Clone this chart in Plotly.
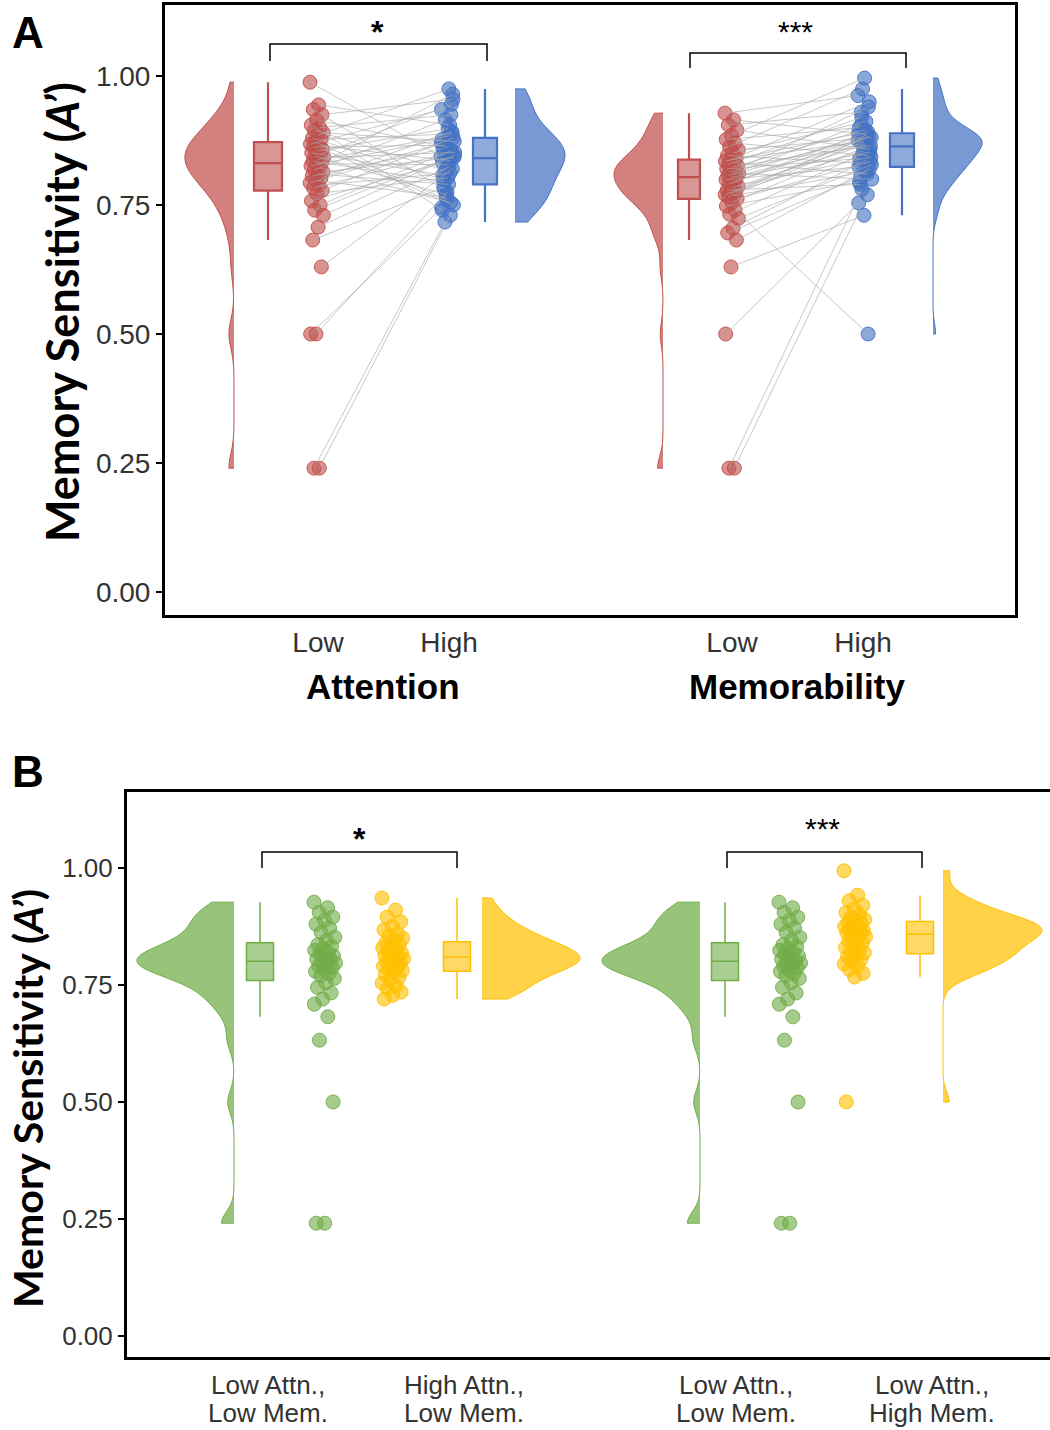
import numpy as np
import plotly.graph_objects as go

# ---------------- DATA ----------------
# Panel A: per-subject memory sensitivity (A'), paired low/high
att_low = [0.988, 0.944, 0.935, 0.925, 0.915, 0.905, 0.900, 0.895, 0.890, 0.885,
           0.880, 0.877, 0.872, 0.868, 0.865, 0.862, 0.858, 0.855, 0.851, 0.848,
           0.845, 0.842, 0.838, 0.835, 0.832, 0.830, 0.826, 0.822, 0.818, 0.814,
           0.810, 0.806, 0.802, 0.798, 0.793, 0.788, 0.783, 0.778, 0.772, 0.758,
           0.750, 0.740, 0.730, 0.707, 0.682, 0.630, 0.500, 0.500, 0.240, 0.240]
att_high = [0.844, 0.905, 0.780, 0.955, 0.862, 0.740, 0.925, 0.816, 0.873, 0.975,
            0.799, 0.888, 0.760, 0.935, 0.836, 0.866, 0.750, 0.898, 0.808, 0.945,
            0.770, 0.852, 0.884, 0.795, 0.965, 0.828, 0.877, 0.755, 0.915, 0.842,
            0.790, 0.859, 0.892, 0.765, 0.870, 0.812, 0.849, 0.880, 0.803, 0.832,
            0.855, 0.840, 0.846, 0.824, 0.785, 0.820, 0.775, 0.745, 0.730, 0.717]
mem_low = [0.928, 0.915, 0.905, 0.895, 0.885, 0.877, 0.870, 0.863, 0.857, 0.851,
           0.846, 0.842, 0.838, 0.835, 0.832, 0.829, 0.826, 0.823, 0.820, 0.817,
           0.814, 0.811, 0.809, 0.807, 0.805, 0.803, 0.799, 0.795, 0.791, 0.787,
           0.783, 0.779, 0.776, 0.773, 0.770, 0.768, 0.766, 0.762, 0.755, 0.748,
           0.740, 0.732, 0.724, 0.705, 0.696, 0.682, 0.630, 0.500, 0.240, 0.240]
mem_high = [0.962, 0.887, 0.930, 0.858, 0.996, 0.900, 0.846, 0.975, 0.881, 0.912,
            0.831, 0.950, 0.873, 0.889, 0.810, 0.920, 0.865, 0.896, 0.840, 0.940,
            0.877, 0.800, 0.885, 0.905, 0.852, 0.869, 0.824, 0.892, 0.879, 0.843,
            0.867, 0.790, 0.883, 0.855, 0.875, 0.815, 0.871, 0.834, 0.862, 0.795,
            0.500, 0.849, 0.828, 0.837, 0.805, 0.820, 0.730, 0.754, 0.770, 0.780]

# Panel B
low_attn_low_mem = [0.927, 0.915, 0.905, 0.895, 0.888, 0.880, 0.872, 0.862, 0.852, 0.845,
                    0.836, 0.832, 0.828, 0.824, 0.820, 0.816, 0.812, 0.808, 0.805, 0.802,
                    0.800, 0.797, 0.793, 0.790, 0.787, 0.783, 0.779, 0.775, 0.770, 0.764,
                    0.755, 0.745, 0.733, 0.720, 0.709, 0.682, 0.632, 0.500, 0.241, 0.241]
high_attn_low_mem = [0.936, 0.910, 0.895, 0.885, 0.875, 0.868, 0.860, 0.855, 0.850, 0.845,
                     0.840, 0.837, 0.834, 0.830, 0.826, 0.822, 0.818, 0.815, 0.813, 0.811,
                     0.809, 0.806, 0.803, 0.800, 0.797, 0.794, 0.790, 0.787, 0.784, 0.781,
                     0.778, 0.772, 0.766, 0.760, 0.754, 0.748, 0.742, 0.735, 0.728, 0.720]
low_attn_high_mem = [0.994, 0.942, 0.930, 0.920, 0.912, 0.905, 0.900, 0.895, 0.890, 0.887,
                     0.884, 0.881, 0.878, 0.875, 0.872, 0.869, 0.866, 0.864, 0.862, 0.860,
                     0.857, 0.853, 0.849, 0.845, 0.840, 0.835, 0.830, 0.826, 0.822, 0.819,
                     0.815, 0.810, 0.805, 0.800, 0.795, 0.790, 0.783, 0.775, 0.767, 0.500]

a_ticklabels = ["Low", "High", "Low", "High"]
a_group_titles = ["Attention", "Memorability"]
b_ticklabels = [("Low Attn.,", "Low Mem."), ("High Attn.,", "Low Mem."),
                ("Low Attn.,", "Low Mem."), ("Low Attn.,", "High Mem.")]
sig_a = ["*", "***"]
sig_b = ["*", "***"]

# ---------------- STYLE / LAYOUT CONSTANTS ----------------
RED = (192, 80, 77)
BLUE = (68, 114, 196)
GREEN = (112, 173, 71)
YELLOW = (255, 192, 0)
W, H = 1050, 1430
FONT = "Liberation Sans, Arial, sans-serif"
TITLE_FONT = "Lato, Carlito, Calibri, sans-serif"


def rgba(c, a):
    return f"rgba({c[0]},{c[1]},{c[2]},{a})"


def nrd0(v):
    v = np.asarray(v, dtype=float)
    sd = v.std(ddof=1)
    q75, q25 = np.percentile(v, [75, 25])
    lo = min(sd, (q75 - q25) / 1.34)
    return 0.9 * lo * len(v) ** -0.2


def jitter(n, amp):
    return np.array([(((i * 0.6180339887) % 1.0) - 0.5) * 2 * amp for i in range(n)])


fig = go.Figure()


def raincloud(vals, color, pos, side, xa, ya, vhalf, boxw, jamp, msize, boxlw):
    n = len(vals)
    fig.add_trace(go.Violin(
        x=[pos["violin"]] * n, y=vals, side=side, width=2 * vhalf, scalemode="width",
        spanmode="hard", bandwidth=nrd0(vals), points=False,
        box_visible=False, meanline_visible=False,
        fillcolor=rgba(color, 0.72), line=dict(color=rgba(color, 1), width=1),
        hoverinfo="skip", showlegend=False, xaxis=xa, yaxis=ya))
    fig.add_trace(go.Box(
        x=[pos["box"]] * n, y=vals, width=boxw, boxpoints="outliers", whiskerwidth=0,
        marker=dict(size=0, opacity=0),
        fillcolor=rgba(color, 0.6), line=dict(color=rgba(color, 1), width=boxlw),
        hoverinfo="skip", showlegend=False, xaxis=xa, yaxis=ya))
    xs = pos["pts"] + jitter(n, jamp)
    fig.add_trace(go.Scatter(
        x=xs, y=vals, mode="markers",
        marker=dict(size=msize, color=rgba(color, 0.62), line=dict(color=rgba(color, 0.9), width=1)),
        hoverinfo="skip", showlegend=False, xaxis=xa, yaxis=ya))
    return xs


def pair_lines(x1, y1, x2, y2, xa, ya):
    lx, ly = [], []
    for a, b, c, d in zip(x1, y1, x2, y2):
        lx += [a, c, None]
        ly += [b, d, None]
    fig.add_trace(go.Scatter(x=lx, y=ly, mode="lines",
                             line=dict(color="rgba(170,170,170,0.65)", width=1),
                             hoverinfo="skip", showlegend=False, xaxis=xa, yaxis=ya))


# positions (axis units, 1 unit = 100 px of plot width)
A_POS = [dict(violin=0.69, box=1.03, pts=1.52),
         dict(pts=2.83, box=3.20, violin=3.50),
         dict(violin=4.98, box=5.24, pts=5.67),
         dict(pts=7.00, box=7.37, violin=7.68)]
A_TICKS = [1.53, 2.84, 5.67, 6.98]
B_POS = [dict(violin=1.07, box=1.33, pts=1.98),
         dict(pts=2.66, box=3.30, violin=3.55),
         dict(violin=5.73, box=5.98, pts=6.63),
         dict(pts=7.28, box=7.93, violin=8.16)]
B_TICKS = [1.41, 3.37, 6.09, 8.05]

# Panel A
x1 = raincloud(att_low, RED, A_POS[0], "negative", "x", "y", 0.49, 0.28, 0.07, 14, 2.2)
x2 = raincloud(att_high, BLUE, A_POS[1], "positive", "x", "y", 0.50, 0.24, 0.07, 14, 2.2)
pair_lines(x1, att_low, x2, att_high, "x", "y")
x3 = raincloud(mem_low, RED, A_POS[2], "negative", "x", "y", 0.49, 0.22, 0.07, 14, 2.2)
x4 = raincloud(mem_high, BLUE, A_POS[3], "positive", "x", "y", 0.49, 0.24, 0.07, 14, 2.2)
pair_lines(x3, mem_low, x4, mem_high, "x", "y")

# Panel B
raincloud(low_attn_low_mem, GREEN, B_POS[0], "negative", "x2", "y2", 0.97, 0.27, 0.11, 14, 1.5)
raincloud(high_attn_low_mem, YELLOW, B_POS[1], "positive", "x2", "y2", 0.98, 0.27, 0.11, 14, 1.5)
raincloud(low_attn_low_mem, GREEN, B_POS[2], "negative", "x2", "y2", 0.98, 0.27, 0.11, 14, 1.5)
raincloud(low_attn_high_mem, YELLOW, B_POS[3], "positive", "x2", "y2", 0.99, 0.27, 0.11, 14, 1.5)


# significance brackets
def bracket(xa, ya, xl, xr, ytop, ybot):
    fig.add_shape(type="path", xref=xa, yref=ya,
                  path=f"M {xl} {ybot} L {xl} {ytop} L {xr} {ytop} L {xr} {ybot}",
                  line=dict(color="black", width=1.5))


bracket("x", "y", 1.05, 3.22, 1.062, 1.029)
bracket("x", "y", 5.25, 7.41, 1.0446, 1.0155)
bracket("x2", "y2", 1.35, 3.30, 1.034, 1.0)
bracket("x2", "y2", 6.00, 7.95, 1.034, 1.0)


def ann(x, y, text, size, xref="paper", yref="paper", family=FONT, angle=0, color="black"):
    fig.add_annotation(x=x, y=y, xref=xref, yref=yref, text=text, textangle=angle,
                       xanchor="center", yanchor="middle", showarrow=False,
                       font=dict(family=family, size=size, color=color))


ann(2.12, 1.086, f"<b>{sig_a[0]}</b>", 32, "x", "y")
ann(6.30, 1.086, sig_a[1], 30, "x", "y")
ann(2.32, 1.062, f"<b>{sig_b[0]}</b>", 32, "x2", "y2")
ann(6.95, 1.085, sig_b[1], 30, "x2", "y2")

# text labels
ytitle = "Memory Sensitivity (<i>A’</i>)"
ann(62 / W, 1 - 312 / H, f"<b>{ytitle}</b>", 45, family=TITLE_FONT, angle=-90)
ann(27 / W, 1 - 1099 / H, f"<b>{ytitle}</b>", 41, family=TITLE_FONT, angle=-90)
ann(383 / W, 1 - 686 / H, f"<b>{a_group_titles[0]}</b>", 35)
ann(797 / W, 1 - 686 / H, f"<b>{a_group_titles[1]}</b>", 35)
ann(28 / W, 1 - 32 / H, "<b>A</b>", 44)
ann(28 / W, 1 - 772 / H, "<b>B</b>", 44)
for xv, (l1, l2) in zip(B_TICKS, b_ticklabels):
    ann(xv, 1 - 1385 / H, l1, 26, "x2", "paper", color="#333")
    ann(xv, 1 - 1413 / H, l2, 26, "x2", "paper", color="#333")

axis_common = dict(showgrid=False, zeroline=False, showline=True, linecolor="black", linewidth=3)
yticks = [0, 0.25, 0.5, 0.75, 1.0]

fig.update_layout(
    width=W, height=H, margin=dict(l=0, r=0, t=0, b=0, pad=0),
    plot_bgcolor="white", paper_bgcolor="white",
    violinmode="overlay", boxmode="overlay", showlegend=False,
    xaxis=dict(domain=[165 / W, 1015 / W], range=[0, 8.5], anchor="y", mirror=True,
               tickvals=A_TICKS, ticktext=a_ticklabels, ticks="", ticklabelstandoff=0,
               tickfont=dict(family=FONT, size=28, color="#333"), **axis_common),
    yaxis=dict(domain=[1 - 615 / H, 1 - 5 / H], range=[-0.0446, 1.1376], anchor="x", mirror=True,
               tickvals=yticks, tickformat=".2f", ticks="outside", ticklen=6, tickwidth=1.5,
               tickcolor="black", tickfont=dict(family=FONT, size=28, color="#333"), **axis_common),
    xaxis2=dict(domain=[127 / W, 1.0], range=[0, 9.23], anchor="y2", mirror=True,
                tickvals=B_TICKS, showticklabels=False, ticks="", **axis_common),
    yaxis2=dict(domain=[1 - 1357 / H, 1 - 792 / H], range=[-0.0449, 1.1624], anchor="x2", mirror=False,
                tickvals=yticks, tickformat=".2f", ticks="outside", ticklen=6, tickwidth=1.5,
                tickcolor="black", tickfont=dict(family=FONT, size=26, color="#333"), **axis_common),
)

fig.write_html("out.html", config={"displayModeBar": False},
               post_script="document.body.style.margin='0px';document.body.style.padding='0px';")
